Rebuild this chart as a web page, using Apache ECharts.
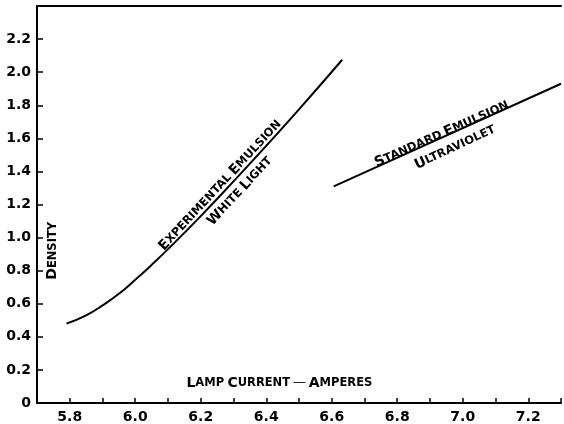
<!DOCTYPE html>
<html>
<head>
<meta charset="utf-8">
<script src="https://cdn.jsdelivr.net/npm/echarts@6/dist/echarts.min.js"></script>
<style>
  html, body { margin: 0; padding: 0; background: #fff; }
  #chart { width: 564px; height: 424px; }
</style>
</head>
<body>
<div id="chart"></div>
<script>
// experimental emulsion, white light
const expCurrent = [5.79, 5.85, 5.90, 5.95, 6.00, 6.05, 6.10, 6.20, 6.30, 6.40, 6.50, 6.632]
const expDensity = [0.48, 0.53, 0.59, 0.66, 0.745, 0.835, 0.93, 1.13, 1.34, 1.555, 1.775, 2.075]

// standard emulsion, ultraviolet
const uvCurrent = [6.606, 7.3]
const uvDensity = [1.31, 1.93]

// hand lettered notes (small caps: {b|} = capital, {s|} = small)
const notes = [
  { text: '{b|E}{s|XPERIMENTAL} {b|E}{s|MULSION}', at: [6.26, 1.315], rotate: 47 },
  { text: '{b|W}{s|HITE} {b|L}{s|IGHT}', at: [6.32, 1.28], rotate: 47 },
  { text: '{b|S}{s|TANDARD} {b|E}{s|MULSION}', at: [6.936, 1.625], rotate: 24 },
  { text: '{b|U}{s|LTRAVIOLET}', at: [6.977, 1.545], rotate: 25 },
  { text: '{b|D}{s|ENSITY}', at: [5.748, 0.92], rotate: 90 },
  { text: '{b|L}{s|AMP} {b|C}{s|URRENT} — {b|A}{s|MPERES}', at: [6.44, 0.12], rotate: 0 }
]

const ink = '#000'
const font = 'DejaVu Sans'

const chart = echarts.init(document.getElementById('chart'))

const pairs = (xs, ys) => xs.map((x, i) => [x, ys[i]])

chart.setOption({
  animation: false,
  backgroundColor: '#fff',
  grid: { left: 37, right: -1, top: 6, bottom: 21 },
  xAxis: [{
    type: 'value',
    min: 5.7,
    max: 7.3,
    interval: 0.1,
    splitLine: { show: false },
    axisLine: { lineStyle: { color: ink, width: 2 } },
    axisTick: { inside: true, length: 5, lineStyle: { color: ink, width: 1.5 } },
    axisLabel: {
      color: ink,
      fontFamily: font,
      fontWeight: 'bold',
      fontSize: 14,
      margin: 7,
      formatter: v => {
        const t = Math.round(v * 10)
        if (t % 2 !== 0 || t < 58 || t > 72) return ''
        return (t / 10).toFixed(1)
      }
    }
  }, {
    // top frame line
    type: 'value',
    position: 'top',
    min: 5.7,
    max: 7.3,
    splitLine: { show: false },
    axisLine: { lineStyle: { color: ink, width: 2 } },
    axisTick: { show: false },
    axisLabel: { show: false }
  }],
  yAxis: {
    type: 'value',
    min: 0,
    max: 2.4,
    interval: 0.2,
    splitLine: { show: false },
    axisLine: { lineStyle: { color: ink, width: 2 } },
    axisTick: { inside: true, length: 6, lineStyle: { color: ink, width: 1.5 } },
    axisLabel: {
      color: ink,
      fontFamily: font,
      fontWeight: 'bold',
      fontSize: 14,
      margin: 6,
      formatter: v => {
        if (v > 2.3) return ''
        if (v === 0) return '0'
        return v.toFixed(1)
      }
    }
  },
  series: [{
    type: 'line',
    data: pairs(expCurrent, expDensity),
    smooth: true,
    showSymbol: false,
    lineStyle: { color: ink, width: 2 }
  }, {
    type: 'line',
    data: pairs(uvCurrent, uvDensity),
    showSymbol: false,
    lineStyle: { color: ink, width: 2 }
  }, {
    type: 'scatter',
    symbolSize: 0,
    silent: true,
    itemStyle: { opacity: 1 },
    data: notes.map(n => ({
      value: n.at,
      label: {
        show: true,
        position: 'inside',
        rotate: n.rotate,
        formatter: n.text,
        color: ink,
        rich: {
          b: { fontFamily: font, fontWeight: 'bold', fontSize: 14, color: ink },
          s: { fontFamily: font, fontWeight: 'bold', fontSize: 11.5, color: ink }
        }
      }
    }))
  }]
})
</script>
</body>
</html>
